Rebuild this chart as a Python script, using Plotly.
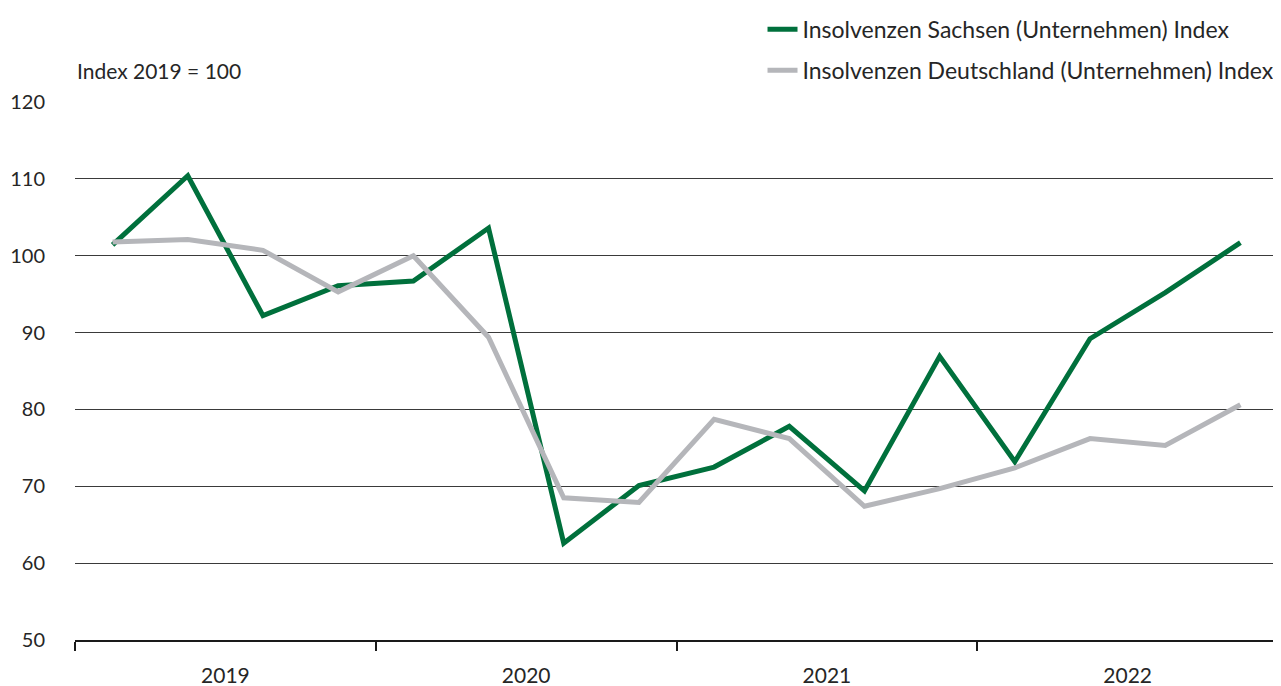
import plotly.graph_objects as go

quarters = ["2019 Q1", "2019 Q2", "2019 Q3", "2019 Q4",
            "2020 Q1", "2020 Q2", "2020 Q3", "2020 Q4",
            "2021 Q1", "2021 Q2", "2021 Q3", "2021 Q4",
            "2022 Q1", "2022 Q2", "2022 Q3", "2022 Q4"]
years = ["2019", "2020", "2021", "2022"]
sachsen = [101.4, 110.4, 92.2, 96.1, 96.7, 103.6, 62.6, 70.1,
           72.5, 77.8, 69.4, 86.9, 73.2, 89.2, 95.2, 101.7]
deutschland = [101.8, 102.1, 100.7, 95.3, 100.0, 89.4, 68.5, 67.9,
               78.7, 76.2, 67.4, 69.7, 72.4, 76.2, 75.3, 80.6]

name_s = "Insolvenzen Sachsen (Unternehmen) Index"
name_d = "Insolvenzen Deutschland (Unternehmen) Index"

FONT = "Lato"
FS = 21
TXT = "#262626"

xpos = list(range(len(quarters)))

fig = go.Figure()
fig.add_trace(go.Scatter(x=xpos, y=sachsen, mode="lines", name=name_s,
                         line=dict(color="#00703C", width=5), legendgroup="a",
                         customdata=quarters))
fig.add_trace(go.Scatter(x=xpos, y=deutschland, mode="lines", name=name_d,
                         line=dict(color="#B5B6BA", width=5), legendgroup="b",
                         customdata=quarters))

year_centers = [i * 4 + 1.5 for i in range(len(years))]
boundaries = [i * 4 - 0.5 for i in range(len(years) + 1)]

# the page body adds an 8px offset; the figure is sized to fit the window
fig.update_layout(
    width=1273, height=678,
    margin=dict(l=67, r=3, t=94, b=46, autoexpand=False),
    plot_bgcolor="white", paper_bgcolor="white",
    font=dict(family=FONT, size=FS, color=TXT),
    showlegend=True,
    legend=dict(x=0.5715, xanchor="left", y=1.175, yanchor="top",
                xref="paper", yref="paper",
                font=dict(size=23, color=TXT), tracegroupgap=8,
                bgcolor="rgba(0,0,0,0)"),
    xaxis=dict(range=[-0.5, len(quarters) - 0.5], tickmode="array",
               tickvals=year_centers, ticktext=years, ticks="",
               showgrid=False, zeroline=False, showline=True,
               linecolor="#1a1a1a", linewidth=2,
               tickfont=dict(size=FS, color=TXT), ticklabelstandoff=16,
               minor=dict(tickmode="array", tickvals=boundaries, ticks="outside",
                          ticklen=9, tickwidth=2, tickcolor="#1a1a1a",
                          showgrid=False)),
    yaxis=dict(range=[50, 120], tickmode="linear", tick0=50, dtick=10,
               showgrid=True, gridcolor="#3a3a3a", gridwidth=1,
               zeroline=False, showline=False, ticks="",
               tickfont=dict(size=20, color=TXT), ticklabelstandoff=29),
    annotations=[dict(text="Index 2019 = 100", xref="paper", yref="paper",
                      x=0, y=1.0, xanchor="left", yanchor="middle", yshift=32,
                      showarrow=False, font=dict(size=FS, color=TXT))],
)

fig.write_html("out.html")
